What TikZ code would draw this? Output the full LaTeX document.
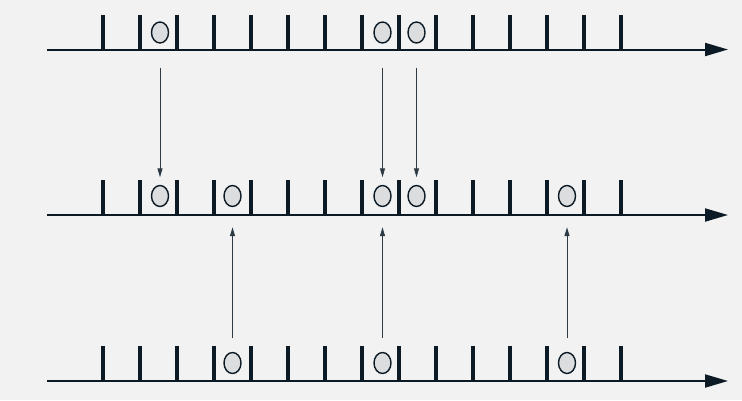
\documentclass[tikz,border=0pt]{standalone}
\usetikzlibrary{arrows.meta,shapes.geometric}
\definecolor{bg}{HTML}{F2F2F2}
\definecolor{ink}{HTML}{0B1A24}
\definecolor{thin}{HTML}{2E3B45}
\definecolor{cfill}{HTML}{DCDDDF}
\tikzset{
  axisline/.style={draw=ink,line width=2pt,-{Triangle[length=23pt,width=13pt]}},
  tickmark/.style={draw=ink,line width=4pt},
  packet/.style={ellipse,draw=ink,fill=cfill,line width=1.4pt,minimum width=17pt,minimum height=21pt,inner sep=0pt},
  conn/.style={draw=thin,line width=1pt,-{Triangle[length=9pt,width=5pt]}}
}
\begin{document}
\begin{tikzpicture}[x=1pt,y=-1pt]
\fill[bg] (0,0) rectangle (742,400);
\useasboundingbox (0,0) rectangle (742,400);
% axes
\foreach \ay/\ty/\nm in {49.5/15/ta,215/180/ma,381/346/ba}{
  \coordinate (\nm s) at (47,\ay);
  \coordinate (\nm e) at (728,\ay);
  \draw[axisline] (\nm s) -- (\nm e);
  \foreach \i in {0,...,14}{
    \draw[tickmark] ({102.7+37.02*\i},\ty) -- ({102.7+37.02*\i},\ay+1);
  }
}
% packets top row
\node[packet] (t1) at (160,32.5) {};
\node[packet] (t7) at (382.5,32.5) {};
\node[packet] (t8) at (416.5,32.5) {};
% middle row
\node[packet] (m1) at (160,196) {};
\node[packet] (m3) at (232.5,196) {};
\node[packet] (m7) at (382.5,196) {};
\node[packet] (m8) at (416.5,196) {};
\node[packet] (m12) at (567,196) {};
% bottom row
\node[packet] (b3) at (232.5,363) {};
\node[packet] (b7) at (382.5,363) {};
\node[packet] (b12) at (567,363) {};
% connectors down
\draw[conn] ([yshift=-24pt]t1.south) -- ([yshift=7.5pt]m1.north);
\draw[conn] ([yshift=-24pt]t7.south) -- ([yshift=7.5pt]m7.north);
\draw[conn] ([yshift=-24pt]t8.south) -- ([yshift=7.5pt]m8.north);
% connectors up
\draw[conn] ([yshift=13.5pt]b3.north) -- ([yshift=-20pt]m3.south);
\draw[conn] ([yshift=13.5pt]b7.north) -- ([yshift=-20pt]m7.south);
\draw[conn] ([yshift=13.5pt]b12.north) -- ([yshift=-20pt]m12.south);
\end{tikzpicture}
\end{document}
